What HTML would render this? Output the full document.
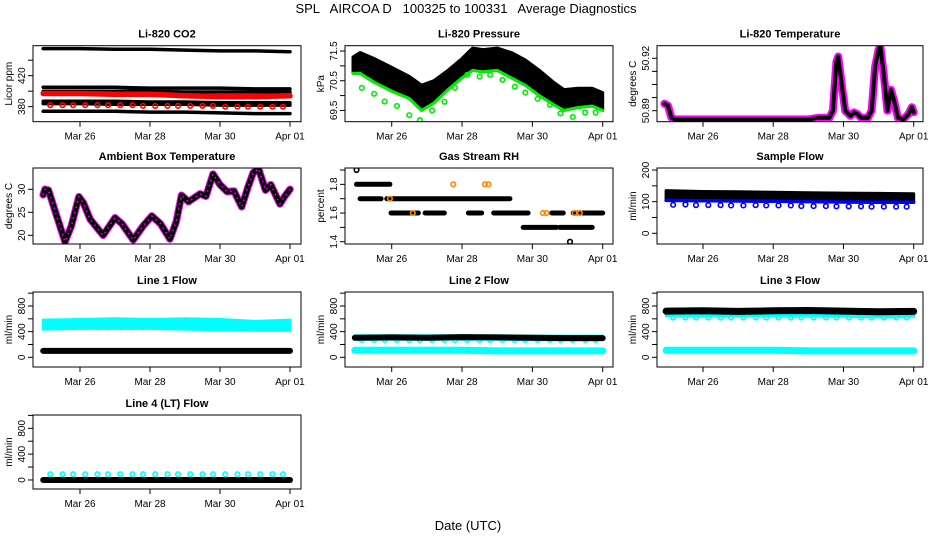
<!DOCTYPE html>
<html><head><meta charset="utf-8">
<style>
html,body{margin:0;padding:0;background:#fff;}
svg{display:block;font-family:"Liberation Sans",Arial,sans-serif;}
</style></head>
<body>
<svg id="chart" width="936" height="540" viewBox="0 0 936 540" xmlns="http://www.w3.org/2000/svg">
<rect x="0" y="0" width="936" height="540" fill="#fff"/>
<text x="466" y="13" font-size="13" text-anchor="middle" fill="#000" xml:space="preserve">SPL   AIRCOA D   100325 to 100331   Average Diagnostics</text>
<text x="468" y="530" font-size="13" text-anchor="middle" fill="#000">Date (UTC)</text>
</svg>
<script>
// ---- shared categories ----
const dayTicks = [26, 28, 30, 32];
const dayTickLabels = ["Mar 26", "Mar 28", "Mar 30", "Apr 01"];
const cycleDays = [25.15,25.5,25.8,26.15,26.5,26.8,27.15,27.5,27.8,28.15,28.5,28.8,29.15,29.5,29.8,30.15,30.5,30.8,31.15,31.5,31.8];
const flatDays = [24.95,26,27,28,29,30,31,32];

// ---- CO2 ----
const co2Black1 = [455,455,454,454,453,452,452,451];
const co2Black2 = [405,405,405,404,404,404,403,403];
const co2Black3 = [400,400,400,400,399,399,399,399];
const co2Black4 = [387,387,387,386,386,385,385,385];
const co2Black5 = [384,384,383,383,383,382,382,382];
const co2Black6 = [374,374,374,373,373,372,371,371];
const co2Red = [397,397,396,396,394,393,393,394];
const co2RedCircles = [382,382,382,382,382,382,382,382,381,381,381,381,381,381,381,380,380,380,380,380,380];

// ---- Pressure ----
const presDays = [24.9,25.1,25.5,26,26.5,26.85,27.2,27.6,28,28.3,28.6,29,29.4,29.8,30.2,30.6,30.9,31.3,31.7,32];
const presTop = [71.3,71.45,71.25,70.95,70.65,70.35,70.5,70.85,71.25,71.6,71.55,71.6,71.45,71.2,70.85,70.45,70.2,70.25,70.25,70.1];
const presBottom = [70.75,70.75,70.45,70.15,69.9,69.5,69.75,70.2,70.6,70.85,70.8,70.85,70.6,70.35,70.0,69.7,69.5,69.6,69.65,69.5];
const presCircles = [70.26,70.06,69.8,69.65,69.34,69.17,69.5,69.79,70.26,70.7,70.64,70.7,70.53,70.3,70.1,69.89,69.69,69.4,69.28,69.43,69.43];

// ---- Li-820 temperature ----
const tempDays = [24.9,25.0,25.1,25.2,26,27,28,29,29.3,29.6,29.7,29.8,29.85,29.95,30.05,30.2,30.3,30.4,30.5,30.7,30.8,30.9,31.0,31.05,31.15,31.25,31.35,31.45,31.55,31.7,31.85,31.95,32.0];
const tempVals = [50.894,50.893,50.886,50.885,50.885,50.885,50.885,50.885,50.886,50.886,50.89,50.918,50.921,50.905,50.89,50.887,50.889,50.888,50.886,50.886,50.89,50.915,50.925,50.927,50.91,50.89,50.902,50.895,50.886,50.885,50.888,50.892,50.889];

// ---- Ambient box temperature ----
const ambDays = [24.95,25.0,25.1,25.3,25.57,25.75,25.97,26.1,26.29,26.66,27.0,27.2,27.52,27.8,28.05,28.3,28.57,28.75,28.9,29.1,29.43,29.6,29.8,30.0,30.2,30.4,30.62,30.8,30.95,31.1,31.3,31.45,31.71,31.85,32.0];
const ambVals = [28.8,30.0,29.8,25.0,18.6,22.0,28.4,27.0,23.5,20.0,23.8,22.5,19.0,22.0,24.2,22.5,19.2,23.0,28.7,27.3,29.0,28.5,33.3,31.0,29.5,29.6,26.2,30.5,33.6,34.5,29.8,31.0,26.8,28.5,30.0];

// ---- Gas stream RH segments ----
const rhLevels = [1.8,1.7,1.7,1.6,1.6,1.6,1.6,1.6,1.6,1.5,1.5];
const rhStarts = [25.0,25.1,25.86,25.98,26.95,28.18,28.9,30.55,31.16,29.74,30.78];
const rhEnds = [25.95,25.7,29.36,26.76,27.5,28.56,29.88,30.88,32.0,30.69,31.7];
const rhSingleDays = [25.0,31.07];
const rhSingleVals = [1.9,1.4];
const rhOrangeDays = [27.75,28.65,28.75,30.3,30.4,31.2,31.35,25.95,26.6];
const rhOrangeVals = [1.8,1.8,1.8,1.6,1.6,1.6,1.6,1.7,1.6];

// ---- Sample flow ----
const sfTop = [135,132,131,130,128,127,126,125];
const sfBlue = [104,103,102,101,100,99,98,98];
const sfCircles = [90,91,89,89,89,88,88,89,88,88,88,86,86,86,85,85,85,84,84,84,84];

// ---- Line flows ----
const l1CyanTop = [580,590,600,590,600,590,560,580];
const l1CyanBot = [440,450,450,450,440,430,420,420];
const l1CyanCircles = [470,470,470,470,470,470,470,470,470,470,470,470,470,470,470,470,470,470,470,470,470];
const l1Black = [100,100,100,100,100,100,100,100];
const l2CyanTop = [335,335,335,335,335,330,330,330];
const l2CyanBot = [280,280,280,280,280,275,275,275];
const l2Black = [305,310,305,315,310,305,300,300];
const l2CyanCircles = [270,270,270,270,270,270,270,270,270,270,270,270,270,270,270,270,270,270,270,270,270];
const l2CyanLow = [110,110,110,110,100,100,100,100];
const l3Black = [720,725,715,725,730,720,710,715];
const l3CyanTop = [690,690,685,690,690,680,670,680];
const l3CyanBot = [650,650,645,650,650,640,630,640];
const l3CyanCircles = [620,620,620,620,620,620,620,620,620,620,620,620,620,620,620,620,620,620,620,620,620];
const l3CyanLow = [110,110,110,110,100,100,100,100];
const l4Black = [0,0,0,0,0,0,0,0];
const l4CyanCircles = [88,88,88,88,88,88,88,88,88,88,88,88,88,88,88,88,88,88,88,88,88];

const NS = "http://www.w3.org/2000/svg";
const svg = document.getElementById("chart");
function mk(tag, attrs, parent) {
  const e = document.createElementNS(NS, tag);
  for (const k in attrs) e.setAttribute(k, attrs[k]);
  (parent || svg).appendChild(e);
  return e;
}
const cols = [{l:33,r:301,x26:80,x32:290},{l:345,r:613,x26:391.7,x32:602.7},{l:657,r:923,x26:703,x32:913.7}];
const rows = [{t:45.7,b:121.7},{t:168,b:244},{t:292,b:367},{t:415,b:489}];

let clipId = 0;
function panel(name, ci, ri, title, ylab, ymin, ymax, ticks, labels) {
  const c = cols[ci], r = rows[ri];
  const g = mk("g", {});
  
  
  const xs = d => c.x26 + (d - 26) * (c.x32 - c.x26) / 6;
  const ys = v => r.b - (v - ymin) / (ymax - ymin) * (r.b - r.t);
  const id = "clip" + (clipId++);
  const cp = mk("clipPath", {id: id}, g);
  mk("rect", {x: c.l, y: r.t, width: c.r - c.l, height: r.b - r.t}, cp);
  const plot = mk("g", {"clip-path": "url(#" + id + ")"}, g);
  
  
  const box = mk("rect", {x: c.l, y: r.t, width: c.r - c.l, height: r.b - r.t, fill: "none", stroke: "#000", "stroke-width": 1}, g);
  
  
  const t = mk("text", {x: (c.l + c.r) / 2, y: r.t - 8, "font-size": 11, "font-weight": "bold", "text-anchor": "middle"}, g);
  t.textContent = title;
  
  
  // x axis
  dayTicks.forEach((d, i) => {
    const x = xs(d);
    mk("line", {x1: x, x2: x, y1: r.b, y2: r.b + 5, stroke: "#000"}, g);
    const tl = mk("text", {x: x, y: r.b + 18, "font-size": 10, "text-anchor": "middle"}, g);
    tl.textContent = dayTickLabels[i];
    
    
  });
  // y axis
  ticks.forEach(v => {
    const y = ys(v);
    mk("line", {x1: c.l - 5, x2: c.l, y1: y, y2: y, stroke: "#000"}, g);
  });
  labels.forEach(v => {
    const y = ys(v);
    const lab = typeof v === "number" ? String(v) : v;
    const yl = mk("text", {x: 0, y: 0, "font-size": 10, "text-anchor": "middle", transform: "translate(" + (c.l - 8) + "," + y + ") rotate(-90)"}, g);
    yl.textContent = lab;
    
    
  });
  const ya = mk("text", {x: 0, y: 0, "font-size": 10, "text-anchor": "middle", transform: "translate(" + (c.l - 21) + "," + ((r.t + r.b) / 2) + ") rotate(-90)"}, g);
  ya.textContent = ylab;
  
  
  return {xs, ys, plot};
}
function line(p, days, vals, color, w, nm, extra) {
  const pts = days.map((d, i) => p.xs(d).toFixed(1) + "," + p.ys(vals[i]).toFixed(1)).join(" ");
  const a = {points: pts, fill: "none", stroke: color, "stroke-width": w, "stroke-linejoin": "round", "stroke-linecap": "round"};
  if (extra) for (const k in extra) a[k] = extra[k];
  const e = mk("polyline", a, p.plot);
  
  
  return e;
}
function band(p, days, top, bot, color, nm) {
  const pts = days.map((d, i) => p.xs(d).toFixed(1) + "," + p.ys(top[i]).toFixed(1))
    .concat(days.slice().reverse().map((d, j) => { const i = days.length - 1 - j; return p.xs(d).toFixed(1) + "," + p.ys(bot[i]).toFixed(1); })).join(" ");
  const e = mk("polygon", {points: pts, fill: color, stroke: color, "stroke-width": 3, "stroke-linejoin": "round"}, p.plot);
  
  
}
function circles(p, days, vals, color, nm) {
  days.forEach((d, i) => {
    const e = mk("circle", {cx: p.xs(d), cy: p.ys(vals[i]), r: 2.3, fill: "none", stroke: color, "stroke-width": 1.6}, p.plot);
    
    
  });
}

// Panel 1 CO2
let p = panel("co2", 0, 0, "Li-820 CO2", "Licor ppm", 360.6, 458.7, [380,400,420,440], [380,420]);
[co2Black1,co2Black2,co2Black3,co2Black4,co2Black5,co2Black6].forEach(s => line(p, flatDays, s, "#000", 3.5, "co2-black-series"));
line(p, flatDays, co2Red, "#ff0000", 5.5, "co2-red-series");
circles(p, cycleDays, co2RedCircles, "#ff0000", "co2-red-point");

// Panel 2 Pressure
p = panel("pressure", 1, 0, "Li-820 Pressure", "kPa", 69.12, 71.68, [69.5,70,70.5,71,71.5], [69.5,70.5,71.5]);
band(p, presDays, presTop, presBottom, "#000", "pressure-black-band");
line(p, presDays, presBottom, "#00ee00", 3, "pressure-green-edge");
circles(p, cycleDays, presCircles, "#00ee00", "pressure-green-point");

// Panel 3 Temperature
p = panel("li820-temp", 2, 0, "Li-820 Temperature", "degrees C", 50.8837, 50.9272, [50.89,50.8975,50.905,50.9125,50.92], ["50.89","50.92"]);
line(p, tempDays, tempVals, "#ff00ff", 8, "temp-magenta-series");
line(p, tempDays, tempVals, "#000", 4, "temp-black-series");

// Panel 4 Ambient
p = panel("ambient", 0, 1, "Ambient Box Temperature", "degrees C", 18.11, 34.63, [20,25,30], [20,25,30]);
line(p, ambDays, ambVals, "#ff00ff", 7.5, "ambient-magenta-series");
line(p, ambDays, ambVals, "#000", 5.5, "ambient-black-series");
line(p, ambDays, ambVals, "#ff00ff", 1.5, "ambient-magenta-dots", {"stroke-dasharray": "1.5,4", "stroke-linecap": "butt"});

// Panel 5 RH
p = panel("rh", 1, 1, "Gas Stream RH", "percent", 1.384, 1.914, [1.4,1.5,1.6,1.7,1.8,1.9], ["1.4","1.6","1.8"]);
rhLevels.forEach((lv, i) => line(p, [rhStarts[i], rhEnds[i]], [lv, lv], "#000", 5, "rh-segment"));
circles(p, rhOrangeDays, rhOrangeVals, "#ff8800", "rh-orange-point");
circles(p, rhSingleDays, rhSingleVals, "#000", "rh-point");

// Panel 6 Sample flow
p = panel("sample-flow", 2, 1, "Sample Flow", "ml/min", -33.8, 206.3, [0,50,100,150,200], [0,100,200]);
band(p, flatDays, sfTop, sfBlue, "#000", "sample-flow-black-band");
line(p, flatDays, sfBlue, "#0000ff", 3.5, "sample-flow-blue-series");
circles(p, cycleDays, sfCircles, "#0000ff", "sample-flow-blue-point");

// Panel 7 Line 1
p = panel("line1", 0, 2, "Line 1 Flow", "ml/min", -151, 1018, [0,200,400,600,800,1000], [0,400,800]);
band(p, flatDays, l1CyanTop, l1CyanBot, "#00ffff", "line1-cyan-band");
circles(p, cycleDays, l1CyanCircles, "#00ffff", "line1-cyan-point");
line(p, flatDays, l1Black, "#000", 6, "line1-black-series");

// Panel 8 Line 2
p = panel("line2", 1, 2, "Line 2 Flow", "ml/min", -151, 1018, [0,200,400,600,800,1000], [0,400,800]);
band(p, flatDays, l2CyanTop, l2CyanBot, "#00ffff", "line2-cyan-band");
line(p, flatDays, l2CyanLow, "#00ffff", 7, "line2-cyan-low-series");
circles(p, cycleDays, l2CyanCircles, "#00ffff", "line2-cyan-point");
line(p, flatDays, l2Black, "#000", 6, "line2-black-series");

// Panel 9 Line 3
p = panel("line3", 2, 2, "Line 3 Flow", "ml/min", -151, 1018, [0,200,400,600,800,1000], [0,400,800]);
band(p, flatDays, l3CyanTop, l3CyanBot, "#00ffff", "line3-cyan-band");
line(p, flatDays, l3CyanLow, "#00ffff", 7, "line3-cyan-low-series");
circles(p, cycleDays, l3CyanCircles, "#00ffff", "line3-cyan-point");
line(p, flatDays, l3Black, "#000", 7, "line3-black-series");

// Panel 10 Line 4
p = panel("line4", 0, 3, "Line 4 (LT) Flow", "ml/min", -140, 1006, [0,200,400,600,800,1000], [0,400,800]);
circles(p, cycleDays, l4CyanCircles, "#00ffff", "line4-cyan-point");
line(p, flatDays, l4Black, "#000", 6, "line4-black-series");
</script>
</body></html>
